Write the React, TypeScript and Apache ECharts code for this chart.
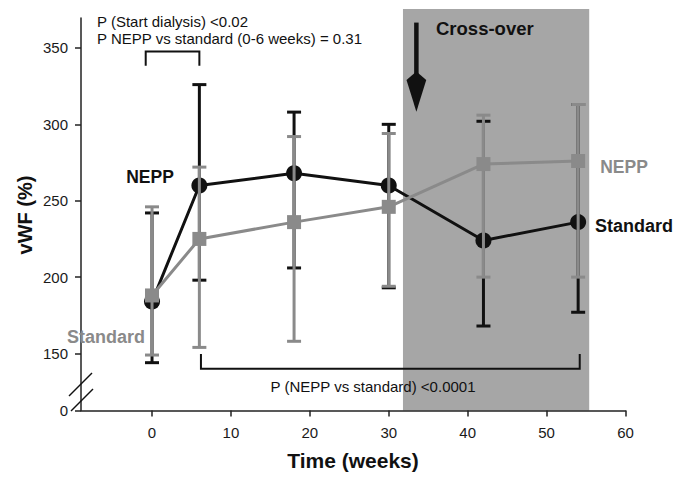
import React, { useEffect, useRef } from "react";
import * as echarts from "echarts";

const weeks = [0, 6, 18, 30, 42, 54];
const blackMean = [184, 260, 268, 260, 224, 236];
const blackLow = [144, 198, 206, 193, 168, 177];
const blackHigh = [242, 326, 308, 300, 302, 313];
const greyMean = [188, 225, 236, 246, 274, 276];
const greyLow = [149, 154, 158, 194, 200, 200];
const greyHigh = [246, 272, 292, 294, 306, 313];

const yTicks = [150, 200, 250, 300, 350];
const xTicks = [0, 10, 20, 30, 40, 50, 60];
const Y_MIN = 112.7; // displayed as "0" (broken axis)
const Y_MAX = 369.6;
const X_MIN = -9;
const X_MAX = 60;

const crossover = [31.8, 55.4];
const crossoverTop = 375.5;
const topBracket = { x0: -0.8, x1: 6, y: 347.6, leg: 338.4 };
const bottomBracket = { x0: 6.2, x1: 54.2, y: 140, leg: 149.7 };
const arrow = { x: 33.5, top: 366.6, headBase: 329, tip: 308.3, halfW: 1.25 };

const BLACK = "#111111";
const GREY = "#8a8a8a";
const BOX = "#a6a6a6";
const FONT = "'Liberation Sans', Arial, sans-serif";

function errorBars(low: number[], high: number[]) {
  return weeks.map((w, i) => [w, low[i], high[i]]);
}

function makeErrorRender(color: string) {
  return (params: any, api: any) => {
    const x = api.value(0);
    const lo = api.coord([x, api.value(1)]);
    const hi = api.coord([x, api.value(2)]);
    const half = 7;
    const style = { stroke: color, lineWidth: 3 };
    return {
      type: "group",
      children: [
        { type: "line", shape: { x1: lo[0], y1: lo[1], x2: hi[0], y2: hi[1] }, style },
        { type: "line", shape: { x1: hi[0] - half, y1: hi[1], x2: hi[0] + half, y2: hi[1] }, style },
        { type: "line", shape: { x1: lo[0] - half, y1: lo[1], x2: lo[0] + half, y2: lo[1] }, style },
      ],
    };
  };
}

export default function App() {
  const ref = useRef<HTMLDivElement>(null);
  useEffect(() => {
    if (!ref.current) return;
    const chart = echarts.init(ref.current, undefined, { renderer: "svg" });
    const txt = (text: string, x: number, y: number, opts: any = {}) => ({
      type: "text",
      x,
      y,
      z: 100,
      rotation: opts.rotation || 0,
      style: {
        text,
        fill: opts.color || BLACK,
        font: `${opts.bold ? "bold " : ""}${opts.size || 15}px ${FONT}`,
        align: opts.align || "left",
        verticalAlign: "middle",
      },
    });
    chart.setOption({
      animation: false,
      grid: { left: 81, top: 18, width: 544.5, height: 392.5, containLabel: false },
      xAxis: {
        type: "value",
        min: X_MIN,
        max: X_MAX,
        splitLine: { show: false },
        axisLine: { onZero: false, lineStyle: { color: "#222", width: 1.5 } },
        axisTick: { show: true, length: 6, customValues: xTicks, lineStyle: { color: "#222", width: 1.5 } },
        axisLabel: { customValues: xTicks, margin: 14, fontSize: 15, color: "#1a1a1a", fontFamily: FONT },
      },
      yAxis: {
        type: "value",
        min: Y_MIN,
        max: Y_MAX,
        splitLine: { show: false },
        axisLine: { show: true, onZero: false, lineStyle: { color: "#222", width: 1.5 } },
        axisTick: { show: true, length: 6, customValues: [Y_MIN, ...yTicks], lineStyle: { color: "#222", width: 1.5 } },
        axisLabel: {
          customValues: [Y_MIN, ...yTicks],
          margin: 13,
          fontSize: 15,
          color: "#1a1a1a",
          fontFamily: FONT,
          formatter: (v: number) => (Math.abs(v - Y_MIN) < 0.01 ? "0" : String(v)),
        },
      },
      series: [
        {
          type: "custom",
          z: 0,
          clip: false,
          silent: true,
          data: [[crossover[0], crossover[1]]],
          renderItem: (params: any, api: any) => {
            const p1 = api.coord([api.value(0), crossoverTop]);
            const p2 = api.coord([api.value(1), Y_MIN]);
            return {
              type: "rect",
              shape: { x: p1[0], y: p1[1], width: p2[0] - p1[0], height: p2[1] - p1[1] },
              style: { fill: BOX },
            };
          },
        },
        {
          type: "custom",
          z: 1,
          clip: false,
          silent: true,
          data: [[0]],
          renderItem: (params: any, api: any) => {
            const s = { stroke: BLACK, lineWidth: 2, fill: "none" };
            const a = api.coord([topBracket.x0, topBracket.leg]);
            const b = api.coord([topBracket.x0, topBracket.y]);
            const c = api.coord([topBracket.x1, topBracket.y]);
            const d = api.coord([topBracket.x1, topBracket.leg]);
            const e = api.coord([bottomBracket.x0, bottomBracket.leg]);
            const f = api.coord([bottomBracket.x0, bottomBracket.y]);
            const g = api.coord([bottomBracket.x1, bottomBracket.y]);
            const h = api.coord([bottomBracket.x1, bottomBracket.leg]);
            const t = api.coord([arrow.x, arrow.top]);
            const hb = api.coord([arrow.x, arrow.headBase + 3]);
            const hl = api.coord([arrow.x - arrow.halfW, arrow.headBase]);
            const hr = api.coord([arrow.x + arrow.halfW, arrow.headBase]);
            const tip = api.coord([arrow.x, arrow.tip]);
            return {
              type: "group",
              children: [
                { type: "polyline", shape: { points: [a, b, c, d] }, style: s },
                { type: "polyline", shape: { points: [e, f, g, h] }, style: s },
                { type: "line", shape: { x1: t[0], y1: t[1], x2: hb[0], y2: hb[1] }, style: { stroke: BLACK, lineWidth: 4.5 } },
                { type: "polygon", shape: { points: [hl, [tip[0], hb[1] - 4], hr, tip] }, style: { fill: BLACK } },
              ],
            };
          },
        },
        {
          type: "custom",
          z: 2,
          silent: true,
          data: errorBars(blackLow, blackHigh),
          renderItem: makeErrorRender(BLACK),
        },
        {
          name: "Group 1",
          type: "line",
          z: 3,
          data: weeks.map((w, i) => [w, blackMean[i]]),
          symbol: "circle",
          symbolSize: 16,
          lineStyle: { color: BLACK, width: 3 },
          itemStyle: { color: BLACK },
        },
        {
          type: "custom",
          z: 4,
          silent: true,
          data: errorBars(greyLow, greyHigh),
          renderItem: makeErrorRender(GREY),
        },
        {
          name: "Group 2",
          type: "line",
          z: 5,
          data: weeks.map((w, i) => [w, greyMean[i]]),
          symbol: "rect",
          symbolSize: 14,
          lineStyle: { color: GREY, width: 3 },
          itemStyle: { color: GREY },
        },
      ],
      graphic: [
        txt("P (Start dialysis) <0.02", 97, 21),
        txt("P NEPP vs standard (0-6 weeks) = 0.31", 97, 38),
        txt("Cross-over", 436, 28, { bold: true, size: 18.5 }),
        txt("NEPP", 150, 177, { bold: true, size: 17.5, align: "center" }),
        txt("Standard", 106, 337, { bold: true, size: 18, align: "center", color: GREY }),
        txt("NEPP", 624, 167, { bold: true, size: 17.5, align: "center", color: GREY }),
        txt("Standard", 634, 226, { bold: true, size: 18, align: "center" }),
        txt("P (NEPP vs standard) <0.0001", 373, 386, { align: "center" }),
        txt("Time (weeks)", 353, 460, { bold: true, size: 21, align: "center" }),
        txt("vWF (%)", 25, 215, { bold: true, size: 20, align: "center", rotation: Math.PI / 2 }),
        { type: "line", z: 100, shape: { x1: 69, y1: 396, x2: 92, y2: 373 }, style: { stroke: BLACK, lineWidth: 1.5 } },
        { type: "line", z: 100, shape: { x1: 71, y1: 411, x2: 93, y2: 389 }, style: { stroke: BLACK, lineWidth: 1.5 } },
      ],
    });
    return () => chart.dispose();
  }, []);
  return (
    <div
      ref={ref}
      style={{ position: "absolute", left: 0, top: 0, width: 685, height: 478, background: "#fff" }}
    />
  );
}
